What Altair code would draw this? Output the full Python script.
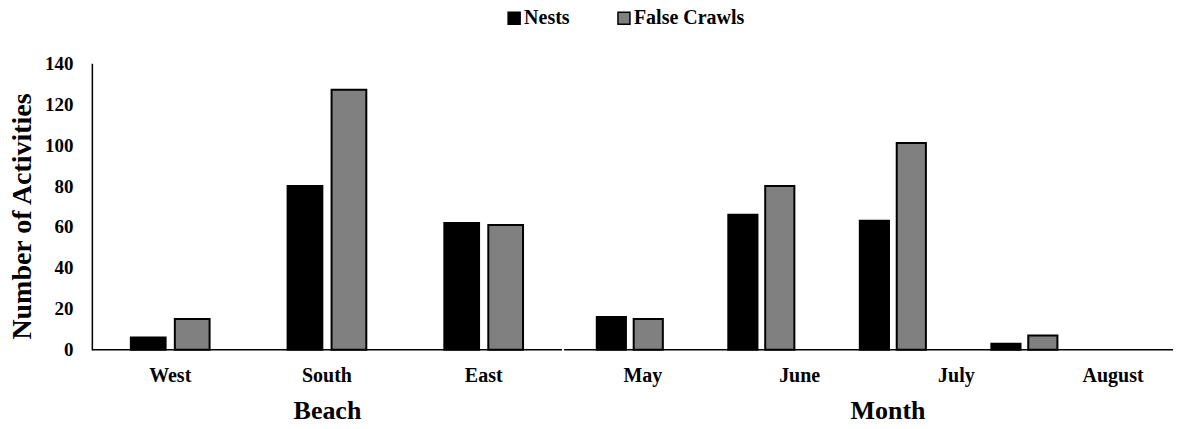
import altair as alt
import pandas as pd

FONT = "Liberation Serif"

series = ["Nests", "False Crawls"]
series_colors = ["#000000", "#808080"]

beaches = ["West", "South", "East"]
beach_nests = [6, 80, 62]
beach_false_crawls = [15, 127, 61]

months = ["May", "June", "July", "August"]
month_nests = [16, 66, 63, 3]
month_false_crawls = [15, 80, 101, 7]

y_ticks = [0, 20, 40, 60, 80, 100, 120, 140]

beach_df = pd.DataFrame({
    "Beach": beaches * 2,
    "Series": [series[0]] * 3 + [series[1]] * 3,
    "Value": beach_nests + beach_false_crawls,
})
month_df = pd.DataFrame({
    "Month": months * 2,
    "Series": [series[0]] * 4 + [series[1]] * 4,
    "Value": month_nests + month_false_crawls,
})
month_labels_df = pd.DataFrame({
    "MonthIndex": list(range(1, len(months) + 1)),
    "zero": [0] * len(months),
})
base_df = pd.DataFrame({"zero": [0]})

month_label_expr = "[" + ",".join("'%s'" % m for m in months) + "][datum.value - 1]"

color_enc = alt.Color(
    "Series:N",
    sort=series,
    scale=alt.Scale(domain=series, range=series_colors),
    legend=alt.Legend(
        title=None,
        orient="none",
        legendX=413,
        legendY=-55,
        direction="horizontal",
        symbolType="square",
        symbolSize=144,
        symbolStrokeColor="black",
        symbolStrokeWidth=1.5,
        labelFont=FONT,
        labelFontSize=20,
        labelFontWeight="bold",
        labelColor="black",
        labelOffset=0,
        columnPadding=44,
        padding=0,
    ),
)
offset_enc = alt.XOffset(
    "Series:N", sort=series, scale=alt.Scale(paddingInner=0.21, paddingOuter=0.887)
)
y_scale = alt.Scale(domain=[0, 140])

H = 287
W_LEFT = 471
W_RIGHT = 610
LABEL_STEP = 157

x_axis_common = dict(
    domain=False,
    ticks=False,
    tickSize=0,
    grid=False,
    labelAngle=0,
    labelPadding=16,
    labelFontSize=20,
    titlePadding=12,
    titleFontSize=26,
)

# ---- Left panel: Beach ----
left_bars = alt.Chart(beach_df).mark_bar(stroke="black", strokeWidth=2).encode(
    x=alt.X(
        "Beach:N",
        sort=beaches,
        scale=alt.Scale(paddingInner=0, paddingOuter=0),
        axis=alt.Axis(title="Beach", **x_axis_common),
    ),
    xOffset=offset_enc,
    y=alt.Y(
        "Value:Q",
        scale=y_scale,
        axis=alt.Axis(
            title="Number of Activities",
            values=y_ticks,
            domain=True,
            domainColor="black",
            domainWidth=1.5,
            ticks=False,
            tickSize=0,
            grid=False,
            labelPadding=19,
            labelFontSize=19,
            titlePadding=8,
            titleFontSize=28,
            titleY=153,
        ),
    ),
    color=color_enc,
)
left_base = alt.Chart(base_df).mark_rule(color="black", strokeWidth=1.5).encode(
    y=alt.Y("zero:Q", scale=y_scale)
)
left = alt.layer(left_bars, left_base).properties(width=W_LEFT, height=H)

# ---- Right panel: Month ----
right_bars = alt.Chart(month_df).mark_bar(stroke="black", strokeWidth=2).encode(
    x=alt.X(
        "Month:N",
        sort=months,
        scale=alt.Scale(paddingInner=0, paddingOuter=0.315, align=0),
        axis=None,
    ),
    xOffset=offset_enc,
    y=alt.Y("Value:Q", scale=y_scale, axis=None),
    color=color_enc,
)
right_labels = alt.Chart(month_labels_df).mark_point(opacity=0).encode(
    x=alt.X(
        "MonthIndex:Q",
        scale=alt.Scale(domain=[0.5, 0.5 + W_RIGHT / LABEL_STEP], nice=False, zero=False),
        axis=alt.Axis(
            title="Month",
            orient="bottom",
            values=list(range(1, len(months) + 1)),
            labelExpr=month_label_expr,
            labelFlush=False,
            labelOverlap=False,
            titleX=324,
            **x_axis_common,
        ),
    ),
    y=alt.Y("zero:Q", scale=y_scale, axis=None),
)
right_base = alt.Chart(base_df).mark_rule(color="black", strokeWidth=1.5).encode(
    y=alt.Y("zero:Q", scale=y_scale, axis=None)
)
right = (
    alt.layer(right_bars, right_labels, right_base)
    .resolve_scale(x="independent")
    .properties(width=W_RIGHT, height=H)
)

chart = (
    alt.hconcat(left, right, spacing=0)
    .resolve_scale(xOffset="independent")
    .properties(padding={"left": 0, "top": 0, "right": 0, "bottom": -4})
    .configure_view(stroke=None)
    .configure_axis(
        labelFont=FONT,
        titleFont=FONT,
        labelFontWeight="bold",
        titleFontWeight="bold",
        labelColor="black",
        titleColor="black",
        grid=False,
    )
)

chart.save("out.html", embed_options={"renderer": "svg", "actions": False})
